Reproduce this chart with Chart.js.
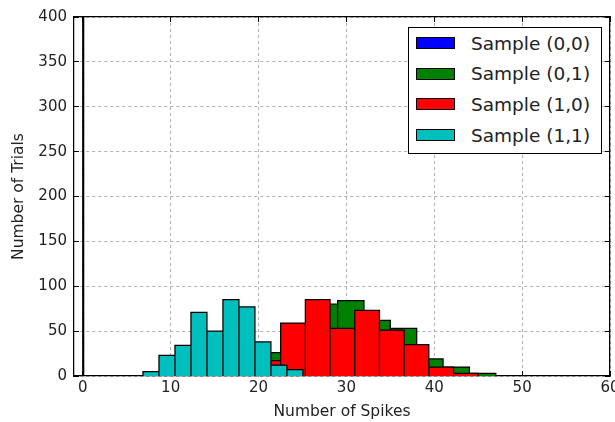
<!DOCTYPE html>
<html>
<head>
<meta charset="utf-8">
<title>Spike count histograms</title>
<script src="https://cdn.jsdelivr.net/npm/chart.js@4.4.0/dist/chart.umd.min.js"></script>
<style>
  body { margin: 0; background: #fff; }
  #wrap { position: relative; width: 615px; height: 422px; }
  #legend {
    position: absolute; left: 408px; top: 27px; width: 194px; height: 127px;
    box-sizing: border-box; border: 1px solid #000; background: #fff;
    font-family: "DejaVu Sans", sans-serif; font-size: 18.5px; color: #222;
  }
  #legend .row { height: 30.6px; display: flex; align-items: center; }
  #legend .swatch {
    width: 39px; height: 12px; box-sizing: border-box; border: 1px solid #000;
    margin-left: 7px; margin-right: 16px;
  }
</style>
</head>
<body>
<div id="wrap">
  <canvas id="spikeHist" width="615" height="422"></canvas>
  <div id="legend"></div>
</div>
<script>
const seriesLabels = ['Sample (0,0)', 'Sample (0,1)', 'Sample (1,0)', 'Sample (1,1)'];
const seriesColors = ['#0000ff', '#008000', '#ff0000', '#00bfbf'];

// bin edges and trial counts for each sample
const edges00 = [-0.5, -0.4, -0.3, -0.2, -0.1, 0, 0.1, 0.2, 0.3, 0.4, 0.5];
const counts00 = [0, 0, 0, 0, 0, 400, 0, 0, 0, 0];
const edges01 = [17, 20, 23, 26, 29, 32, 35, 38, 41, 44, 47];
const counts01 = [20, 26, 45, 80, 84, 62, 53, 19, 10, 3];
const edges10 = [16.9, 19.71, 22.52, 25.33, 28.14, 30.95, 33.76, 36.57, 39.38, 42.19, 45.0];
const counts10 = [15, 17, 59, 85, 53, 73, 51, 35, 10, 3];
const edges11 = [6.85, 8.67, 10.49, 12.31, 14.13, 15.95, 17.77, 19.59, 21.41, 23.23, 25.05];
const counts11 = [5, 23, 34, 71, 50, 85, 77, 38, 12, 7];

const xTicks = [0, 10, 20, 30, 40, 50, 60];
const yTicks = [0, 50, 100, 150, 200, 250, 300, 350, 400];

// outline of a histogram: every bin is a closed box standing on y = 0
function histPoints(edges, counts) {
  const pts = [];
  counts.forEach((c, i) => {
    pts.push({ x: edges[i], y: 0 }, { x: edges[i], y: c },
             { x: edges[i + 1], y: c }, { x: edges[i + 1], y: 0 });
  });
  return pts;
}

const allEdges = [edges00, edges01, edges10, edges11];
const allCounts = [counts00, counts01, counts10, counts11];

const datasets = seriesLabels.map((label, i) => ({
  label: label,
  data: histPoints(allEdges[i], allCounts[i]),
  backgroundColor: seriesColors[i],
  borderColor: '#000',
  borderWidth: 1.25,
  borderJoinStyle: 'miter',
  fill: 'origin',
  pointRadius: 0,
  tension: 0,
  order: seriesLabels.length - i   // later samples drawn on top
}));

Chart.defaults.font.family = '"DejaVu Sans", sans-serif';
Chart.defaults.font.size = 15;
Chart.defaults.color = '#222';

const gridStyle = {
  color: '#b0b0b0', lineWidth: 1,
  tickLength: -5, tickColor: '#000', tickWidth: 1
};
const borderStyle = { color: '#000', width: 1.25, dash: [3, 3] };

new Chart(document.getElementById('spikeHist'), {
  type: 'line',
  data: { datasets: datasets },
  options: {
    responsive: false,
    animation: false,
    events: [],
    layout: { padding: { left: 0, right: 5, top: 17, bottom: 0 } },
    plugins: { legend: { display: false }, tooltip: { enabled: false } },
    scales: {
      x: {
        type: 'linear', position: 'bottom', min: -1, max: 60,
        afterBuildTicks: s => { s.ticks = xTicks.map(v => ({ value: v })); },
        afterFit: s => { s.height = 46; s.paddingLeft = 0; s.paddingRight = 0; },
        grid: gridStyle,
        border: borderStyle,
        ticks: { padding: 8, maxRotation: 0, autoSkip: false },
        title: {
          display: true, text: 'Number of Spikes',
          font: { size: 15.5, lineHeight: 1.2 }, padding: { top: 0, bottom: 1 }
        }
      },
      y: {
        type: 'linear', position: 'left', min: 0, max: 400,
        afterBuildTicks: s => { s.ticks = yTicks.map(v => ({ value: v })); },
        afterFit: s => { s.width = 74; s.paddingTop = 0; s.paddingBottom = 0; },
        grid: gridStyle,
        border: borderStyle,
        ticks: { padding: 12, autoSkip: false },
        title: {
          display: true, text: 'Number of Trials',
          font: { size: 15.5, lineHeight: 1.2 }, padding: { top: 10, bottom: 0 }
        }
      },
      xTop: {
        type: 'linear', position: 'top', min: -1, max: 60,
        afterBuildTicks: s => { s.ticks = xTicks.map(v => ({ value: v })); },
        afterFit: s => { s.height = 0; s.paddingLeft = 0; s.paddingRight = 0; },
        grid: Object.assign({}, gridStyle, { drawOnChartArea: false }),
        border: borderStyle,
        ticks: { display: false }
      },
      yRight: {
        type: 'linear', position: 'right', min: 0, max: 400,
        afterBuildTicks: s => { s.ticks = yTicks.map(v => ({ value: v })); },
        afterFit: s => { s.width = 0; s.paddingTop = 0; s.paddingBottom = 0; },
        grid: Object.assign({}, gridStyle, { drawOnChartArea: false }),
        border: borderStyle,
        ticks: { display: false }
      }
    }
  }
});

// legend box inside the axes, built from the same labels and colours
const legendEl = document.getElementById('legend');
seriesLabels.forEach((label, i) => {
  const row = document.createElement('div');
  row.className = 'row';
  const sw = document.createElement('span');
  sw.className = 'swatch';
  sw.style.background = seriesColors[i];
  const txt = document.createElement('span');
  txt.textContent = label;
  row.appendChild(sw);
  row.appendChild(txt);
  legendEl.appendChild(row);
});
</script>
</body>
</html>
